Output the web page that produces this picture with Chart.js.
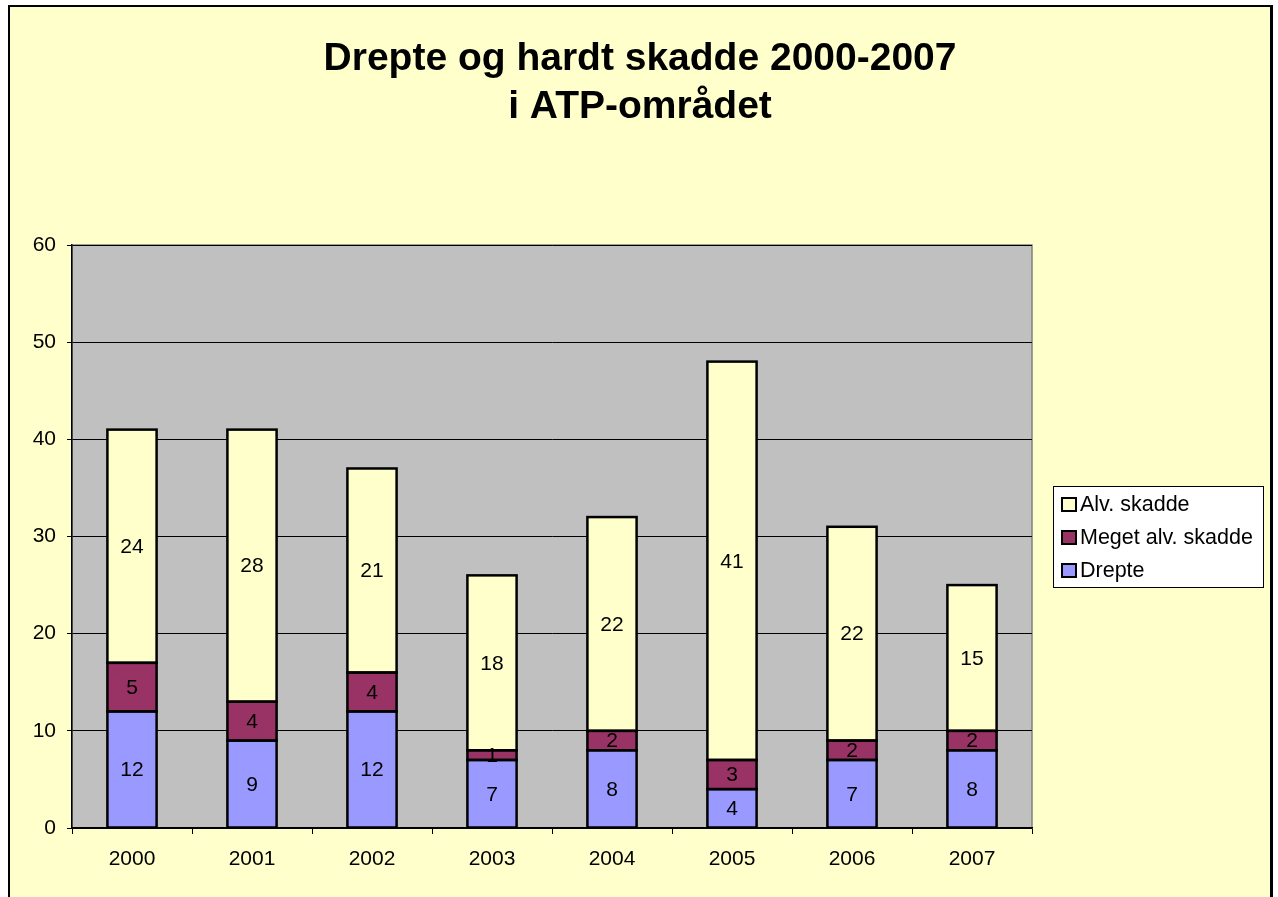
<!DOCTYPE html>
<html>
<head>
<meta charset="utf-8">
<script src="https://cdn.jsdelivr.net/npm/chart.js@4"></script>
<style>
  html, body { margin: 0; padding: 0; background: #ffffff; }
  #wrap { width: 1278px; height: 897px; }
</style>
</head>
<body>
<div id="wrap"><canvas id="chart" width="1278" height="897"></canvas></div>
<script>
// data
const years = ['2000', '2001', '2002', '2003', '2004', '2005', '2006', '2007'];
const drepte = [12, 9, 12, 7, 8, 4, 7, 8];
const megetAlvSkadde = [5, 4, 4, 1, 2, 3, 2, 2];
const alvSkadde = [24, 28, 21, 18, 22, 41, 22, 15];
const yTicks = [0, 10, 20, 30, 40, 50, 60];
const titleLines = ['Drepte og hardt skadde 2000-2007', 'i ATP-området'];

const FONT = 'Arial, "Liberation Sans", sans-serif';

// frame + gray plot background
const backgroundPlugin = {
    id: 'bg',
    beforeDraw(chart) {
        const ctx = chart.ctx;
        const a = chart.chartArea;
        ctx.save();
        ctx.fillStyle = '#ffffff';
        ctx.fillRect(0, 0, chart.width, chart.height);
        ctx.fillStyle = '#FFFFCC';
        ctx.fillRect(8, 6, 1263, chart.height);
        ctx.strokeStyle = '#000000';
        ctx.lineWidth = 2;
        ctx.beginPath();
        ctx.moveTo(9, chart.height);
        ctx.lineTo(9, 6);
        ctx.lineTo(1270, 6);
        ctx.stroke();
        ctx.lineWidth = 3;
        ctx.beginPath();
        ctx.moveTo(1271.5, 5);
        ctx.lineTo(1271.5, chart.height);
        ctx.stroke();
        ctx.fillStyle = '#C0C0C0';
        ctx.fillRect(a.left, a.top, a.right - a.left, a.bottom - a.top);
        ctx.strokeStyle = '#808080';
        ctx.lineWidth = 1.5;
        ctx.strokeRect(a.left, a.top, a.right - a.left, a.bottom - a.top);
        ctx.restore();
    }
};

// bar outlines, title, value labels and legend box
const overlayPlugin = {
    id: 'overlay',
    afterDatasetsDraw(chart) {
        const ctx = chart.ctx;
        ctx.save();

        // outlines centred on the segment edges so touching segments share one line
        ctx.strokeStyle = '#000000';
        ctx.lineWidth = 2.5;
        chart.data.datasets.forEach((ds, i) => {
            chart.getDatasetMeta(i).data.forEach(bar => {
                ctx.strokeRect(bar.x - bar.width / 2, bar.y, bar.width, bar.base - bar.y);
            });
        });

        ctx.fillStyle = '#000000';
        ctx.textAlign = 'center';
        ctx.textBaseline = 'middle';
        ctx.font = 'bold 39px ' + FONT;
        ctx.fillText(titleLines[0], 640, 59);
        ctx.fillText(titleLines[1], 640, 107);

        ctx.font = '21px ' + FONT;
        chart.data.datasets.forEach((ds, i) => {
            const meta = chart.getDatasetMeta(i);
            meta.data.forEach((bar, j) => {
                const v = ds.data[j];
                ctx.fillText(String(v), bar.x, (bar.y + bar.base) / 2 + 1);
            });
        });

        // legend
        const lx = 1053, ly = 486, lw = 210, lh = 101;
        ctx.fillStyle = '#ffffff';
        ctx.fillRect(lx, ly, lw, lh);
        ctx.strokeStyle = '#000000';
        ctx.lineWidth = 1;
        ctx.strokeRect(lx + 0.5, ly + 0.5, lw, lh);
        const items = [chart.data.datasets[2], chart.data.datasets[1], chart.data.datasets[0]];
        ctx.textAlign = 'left';
        ctx.font = '21.5px ' + FONT;
        items.forEach((ds, k) => {
            const cy = 504 + k * 33;
            ctx.fillStyle = ds.backgroundColor;
            ctx.fillRect(lx + 9, cy - 6, 14, 13);
            ctx.lineWidth = 2;
            ctx.strokeStyle = '#000000';
            ctx.strokeRect(lx + 9, cy - 6, 14, 13);
            ctx.fillStyle = '#000000';
            ctx.fillText(ds.label, lx + 27, cy + 1);
        });
        ctx.restore();
    }
};

function makeSet(label, data, color) {
    return {
        label: label,
        data: data,
        backgroundColor: color,
        borderWidth: 0,
        barPercentage: 0.41,
        categoryPercentage: 1.0
    };
}

new Chart(document.getElementById('chart'), {
    type: 'bar',
    data: {
        labels: years,
        datasets: [
            makeSet('Drepte', drepte, '#9999FF'),
            makeSet('Meget alv. skadde', megetAlvSkadde, '#993366'),
            makeSet('Alv. skadde', alvSkadde, '#FFFFCC')
        ]
    },
    options: {
        responsive: false,
        animation: false,
        devicePixelRatio: 1,
        layout: { padding: { left: 8, right: 246, top: 245, bottom: 0 } },
        plugins: {
            legend: { display: false },
            title: { display: false },
            tooltip: { enabled: false }
        },
        scales: {
            x: {
                stacked: true,
                afterFit(scale) { scale.height = 69; },
                grid: {
                    offset: true,
                    drawOnChartArea: false,
                    color: '#000000',
                    tickLength: 6,
                    tickWidth: 1
                },
                border: { color: '#000000', width: 1.5 },
                ticks: {
                    color: '#000000',
                    font: { family: FONT, size: 21 },
                    padding: 13,
                    maxRotation: 0
                }
            },
            y: {
                stacked: true,
                min: 0,
                max: 60,
                afterFit(scale) { scale.width = 64; },
                afterBuildTicks(scale) { scale.ticks = yTicks.map(v => ({ value: v })); },
                grid: {
                    color: '#000000',
                    lineWidth: 1,
                    tickLength: 5
                },
                border: { color: '#000000', width: 1.5 },
                ticks: {
                    color: '#000000',
                    font: { family: FONT, size: 21 },
                    padding: 11
                }
            }
        }
    },
    plugins: [backgroundPlugin, overlayPlugin]
});
</script>
</body>
</html>
